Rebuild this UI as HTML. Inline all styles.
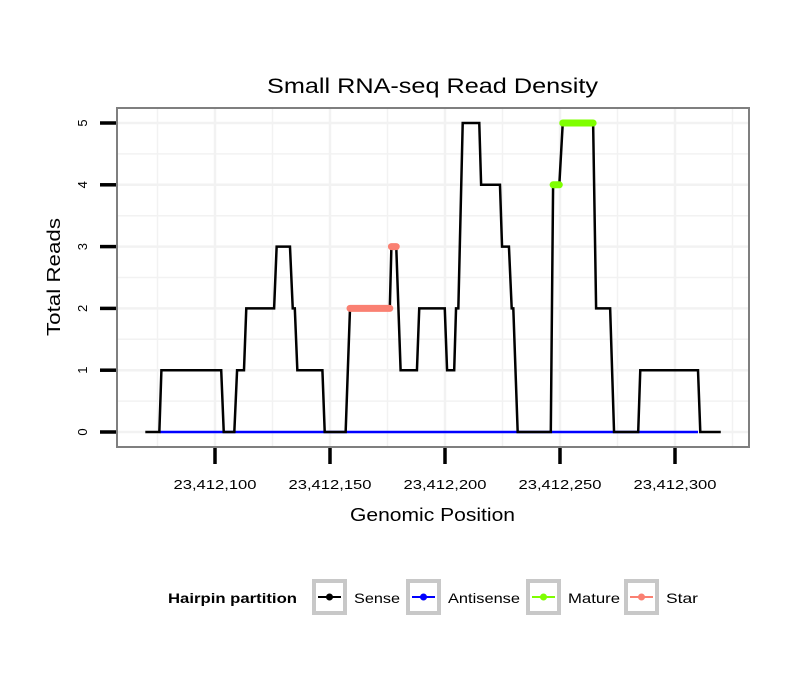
<!DOCTYPE html>
<html><head><meta charset="utf-8"><style>
body{margin:0;background:#fff;font-family:"Liberation Sans",sans-serif}
svg text{font-family:"Liberation Sans",sans-serif}
</style></head><body>
<svg id="chart" width="810" height="690" xmlns="http://www.w3.org/2000/svg">
<rect width="810" height="690" fill="#fff"/>
<text x="267" y="93" font-size="21" textLength="331" lengthAdjust="spacingAndGlyphs">Small RNA-seq Read Density</text>
<g id="grid"></g>
<g id="marks"></g>
<rect x="117" y="108" width="632" height="339" fill="none" stroke="#7f7f7f" stroke-width="2"/>
<g id="axes"></g>
<text x="350" y="521" font-size="18" textLength="165" lengthAdjust="spacingAndGlyphs">Genomic Position</text>
<text transform="translate(60,336) rotate(-90)" font-size="18" textLength="118" lengthAdjust="spacingAndGlyphs">Total Reads</text>
<g>
<text x="168" y="603" font-size="14" font-weight="bold" textLength="129" lengthAdjust="spacingAndGlyphs">Hairpin partition</text>
<g><rect x="314" y="581" width="31" height="32" fill="#fff" stroke="#c8c8c8" stroke-width="4"/><line x1="318" y1="597" x2="341" y2="597" stroke="#000" stroke-width="2"/><circle cx="329.5" cy="597" r="3.5" fill="#000"/><text x="354" y="603" font-size="14" textLength="46" lengthAdjust="spacingAndGlyphs">Sense</text></g>
<g><rect x="408" y="581" width="31" height="32" fill="#fff" stroke="#c8c8c8" stroke-width="4"/><line x1="412" y1="597" x2="435" y2="597" stroke="#0000ff" stroke-width="2"/><circle cx="423.5" cy="597" r="3.5" fill="#0000ff"/><text x="448" y="603" font-size="14" textLength="72" lengthAdjust="spacingAndGlyphs">Antisense</text></g>
<g><rect x="528" y="581" width="31" height="32" fill="#fff" stroke="#c8c8c8" stroke-width="4"/><line x1="532" y1="597" x2="555" y2="597" stroke="#7fff00" stroke-width="2"/><circle cx="543.5" cy="597" r="3.5" fill="#7fff00"/><text x="568" y="603" font-size="14" textLength="52" lengthAdjust="spacingAndGlyphs">Mature</text></g>
<g><rect x="626" y="581" width="31" height="32" fill="#fff" stroke="#c8c8c8" stroke-width="4"/><line x1="630" y1="597" x2="653" y2="597" stroke="#fa8072" stroke-width="2"/><circle cx="641.5" cy="597" r="3.5" fill="#fa8072"/><text x="666" y="603" font-size="14" textLength="32" lengthAdjust="spacingAndGlyphs">Star</text></g>
</g>
</svg>
<script>
const BASE = 23412000;
const sensePos = [69.7,75.8,76.7,102.7,103.8,108.4,109.6,112.6,113.6,125.7,126.8,132.6,133.8,134.7,135.8,146.7,147.7,156.8,158.7,176,176.7,178.8,180.7,187.8,188.8,199.9,200.9,204,204.8,205.8,207.7,214.9,215.7,223.9,224.8,227.8,229,229.7,231.6,246,247,249.7,251.2,264.4,265.7,271.8,273.5,284,284.9,310,311,319.9];
const senseVal = [0,0,1,1,0,0,1,1,2,2,3,3,2,2,1,1,0,0,2,2,3,3,1,1,2,2,1,1,2,2,5,5,4,4,3,3,2,2,0,0,4,4,5,5,2,2,0,0,1,1,0,0];
const antiPos = [76,310];
const antiVal = [0,0];
const starSegs = [[158.7,176,2],[176.7,178.8,3]];
const matureSegs = [[247,249.7,4],[251.2,264.4,5]];
const xTicks = [100,150,200,250,300];
const xTickLabels = ["23,412,100","23,412,150","23,412,200","23,412,250","23,412,300"];
const yTicks = [0,1,2,3,4,5];

const xS = p => 215 + (p - 100) * 2.3;
const yS = v => 432 - v * 61.8;
const NS = "http://www.w3.org/2000/svg";
function mk(parent, tag, attrs){const e=document.createElementNS(NS,tag);for(const k in attrs)e.setAttribute(k,attrs[k]);parent.appendChild(e);return e;}
const grid=document.getElementById('grid'), marks=document.getElementById('marks'), axes=document.getElementById('axes');
for(let v=-0.5; v<=5.5; v+=0.5){const y=yS(v); if(y<109||y>446)continue;
 const l=mk(grid,'line',{x1:118,x2:748,y1:y,y2:y,stroke:'#f2f2f2','stroke-width':v%1===0?2.5:1.5});
 
 }
for(let p=75; p<=325; p+=25){const x=xS(p); if(x<118||x>748)continue;
 const l=mk(grid,'line',{x1:x,x2:x,y1:109,y2:446,stroke:'#f2f2f2','stroke-width':p%50===0?2.5:1.5});
 
 }
const antiLine=mk(marks,'polyline',{points:antiPos.map((p,i)=>xS(p)+','+yS(antiVal[i])).join(' '),fill:'none',stroke:'#0000ff','stroke-width':2.5});


const senseLine=mk(marks,'polyline',{points:sensePos.map((p,i)=>xS(p)+','+yS(senseVal[i])).join(' '),fill:'none',stroke:'#000','stroke-width':2.5});


starSegs.forEach(s=>{const l=mk(marks,'line',{x1:xS(s[0]),x2:xS(s[1]),y1:yS(s[2]),y2:yS(s[2]),stroke:'#fa8072','stroke-width':7,'stroke-linecap':'round'});
 
 });
matureSegs.forEach(s=>{const l=mk(marks,'line',{x1:xS(s[0]),x2:xS(s[1]),y1:yS(s[2]),y2:yS(s[2]),stroke:'#7fff00','stroke-width':7,'stroke-linecap':'round'});
 
 });
xTicks.forEach((p,i)=>{const x=xS(p);
 const t=mk(axes,'line',{x1:x,x2:x,y1:448,y2:464,stroke:'#000','stroke-width':3.5});
 
 
 const tx=mk(axes,'text',{x:x-41.5,y:489,'font-size':13,textLength:83,lengthAdjust:'spacingAndGlyphs'});tx.textContent=xTickLabels[i];
 
 });
yTicks.forEach(v=>{const y=yS(v);
 const t=mk(axes,'line',{x1:100,x2:116,y1:y,y2:y,stroke:'#000','stroke-width':3.5});
 
 
 const tx=mk(axes,'text',{transform:`translate(87,${y}) rotate(-90)`,'font-size':13,'text-anchor':'middle'});tx.textContent=v;
 
 });
</script>
</body></html>
